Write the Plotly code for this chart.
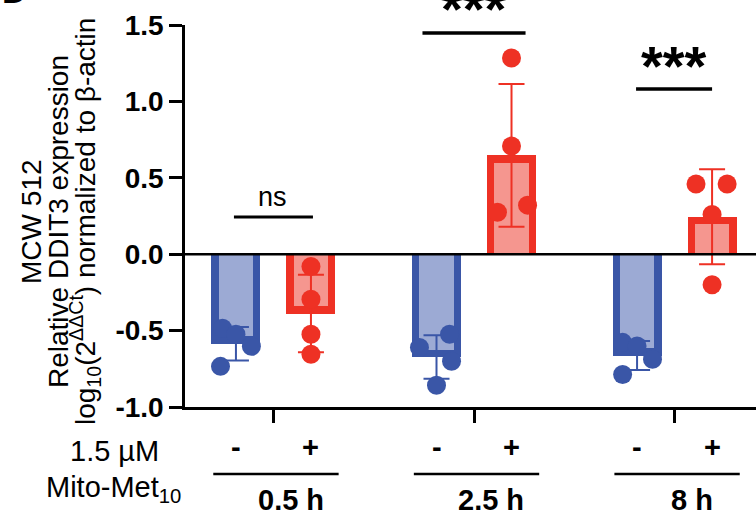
import numpy as np
import plotly.graph_objects as go

# ---------------- data ----------------
groups = ['0.5 h', '2.5 h', '8 h']
treatment_labels = ['-', '+']
ctrl_reps = [[-0.485, -0.524, -0.603, -0.734],
             [-0.524, -0.610, -0.700, -0.858],
             [-0.577, -0.600, -0.688, -0.787]]
mito_reps = [[-0.080, -0.295, -0.524, -0.655],
             [1.284, 0.708, 0.275, 0.321],
             [0.460, 0.460, 0.260, -0.200]]
sig_labels = ['ns', '***', '***']
sig_heights = [0.243, 1.448, 1.081]
y_ticks = [-1.0, -0.5, 0.0, 0.5, 1.0, 1.5]
y_ticktext = ['-1.0', '-0.5', '0.0', '0.5', '1.0', '1.5']

# ---------------- style ----------------
FONT = 'Liberation Sans, Arial, Helvetica, sans-serif'
BLUE, BLUE_L = '#3A56A7', '#9CAAD4'
RED, RED_L = '#EE3124', '#F5968F'
W, H = 756, 516
ML, MT, MB = 185, 25, 109
PW, PH = W - ML, H - MT - MB
XR = [-0.441, 2.406]
YR = [-1.0, 1.5]
OFF = 0.187          # bar offset from group centre
BW = 0.244           # bar width
BORDER_X = 0.036     # outline thickness (x units)
BORDER_Y = 0.049     # outline thickness (y units)
# per-point horizontal jitter (x units)
ctrl_jit = [[-0.067, 0.0, 0.077, -0.077], [0.065, -0.085, 0.075, 0.0], [-0.072, 0.0, 0.077, -0.072]]
mito_jit = [[0.0, 0.0, 0.0, 0.0], [0.0, 0.0, -0.07, 0.08], [-0.08, 0.075, 0.0, 0.0]]


def py2paper(py):
    return (H - MB - py) / PH


def px2paper(px):
    return (px - ML) / PW


def ann(**kw):
    d = dict(showarrow=False, xanchor='center', yanchor='middle')
    d.update(kw)
    return d


fig = go.Figure()

series = [(ctrl_reps, ctrl_jit, -OFF, BLUE, BLUE_L),
          (mito_reps, mito_jit, OFF, RED, RED_L)]

for reps, jit, off, dark, light in series:
    xs = [i + off for i in range(len(groups))]
    means = [float(np.mean(r)) for r in reps]
    sds = [float(np.std(r, ddof=1)) for r in reps]
    inner = [m - np.sign(m) * BORDER_Y for m in means]
    fig.add_trace(go.Bar(x=xs, y=means, width=BW, marker=dict(color=dark, line=dict(width=0)),
                         showlegend=False, hoverinfo='skip'))
    fig.add_trace(go.Bar(x=xs, y=inner, width=BW - 2 * BORDER_X,
                         marker=dict(color=light, line=dict(width=0)),
                         showlegend=False, hoverinfo='skip'))
    fig.add_trace(go.Scatter(x=xs, y=means, mode='markers', marker=dict(size=1, opacity=0),
                             error_y=dict(type='data', array=sds, visible=True, color=dark,
                                          thickness=2, width=13),
                             showlegend=False, hoverinfo='skip', cliponaxis=False))
    px_, py_ = [], []
    for i, r in enumerate(reps):
        for j, v in enumerate(r):
            px_.append(i + off + jit[i][j])
            py_.append(v)
    fig.add_trace(go.Scatter(x=px_, y=py_, mode='markers',
                             marker=dict(size=19, color=dark, line=dict(width=0)),
                             showlegend=False, cliponaxis=False))

shapes = []
# zero line above bars
shapes.append(dict(type='line', xref='paper', yref='y', x0=0, x1=1, y0=0, y1=0,
                   line=dict(color='black', width=2.5), layer='above'))
annotations = []

# significance bars
for i, (lab, h) in enumerate(zip(sig_labels, sig_heights)):
    if lab == 'ns':
        x0, x1 = i - OFF - 0.01, i + OFF + 0.01
        shapes.append(dict(type='line', xref='x', yref='y', x0=x0, x1=x1, y0=h, y1=h,
                           line=dict(color='black', width=3)))
        annotations.append(ann(x=i - 0.005, y=h, xref='x', yref='y', text=lab,
                               yshift=20, font=dict(family=FONT, size=27, color='black')))
    else:
        if i == 1:
            x0, x1 = i - OFF - 0.07, i + OFF + 0.07
        else:
            x0, x1 = i - OFF - 0.005, i + OFF
        shapes.append(dict(type='line', xref='x', yref='y', x0=x0, x1=x1, y0=h, y1=h,
                           line=dict(color='black', width=3.5)))
        annotations.append(ann(x=(x0 + x1) / 2, y=h, xref='x', yref='y', text=lab,
                               yshift=24, font=dict(family=FONT, size=56, color='black', weight='bold')))

# treatment +/- labels, group underline, group label
for i, g in enumerate(groups):
    for k, t in enumerate(treatment_labels):
        annotations.append(ann(x=i + (-OFF if k == 0 else OFF), y=py2paper(447), xref='x', yref='paper',
                               text=t, font=dict(family=FONT, size=29, color='black', weight='bold')))
    shapes.append(dict(type='line', xref='x', yref='paper', x0=i - 0.30, x1=i + 0.325,
                       y0=py2paper(474), y1=py2paper(474), line=dict(color='black', width=2.5)))
    annotations.append(ann(x=i + 0.085, y=py2paper(500), xref='x', yref='paper', text=g,
                           font=dict(family=FONT, size=29, color='black', weight='bold')))

# left side row labels
annotations.append(ann(x=px2paper(114), y=py2paper(451), xref='paper', yref='paper', text='1.5 µM',
                       font=dict(family=FONT, size=29, color='black')))
annotations.append(ann(x=px2paper(113), y=py2paper(489), xref='paper', yref='paper',
                       text='Mito-Met<sub>10</sub>',
                       font=dict(family=FONT, size=29, color='black')))

# y-axis title lines
ytitle = ['MCW 512', 'Relative DDIT3 expression',
          'log<sub>10</sub>(2<sup>ΔΔCt</sup>) normalized to β-actin']
for xpx, t in zip([31, 58, 85], ytitle):
    annotations.append(ann(x=px2paper(xpx), y=py2paper(222), xref='paper', yref='paper', text=t,
                           textangle=-90, font=dict(family=FONT, size=28, color='black')))

# panel letter
annotations.append(ann(x=px2paper(0), y=py2paper(8), xref='paper', yref='paper', text='D',
                       xanchor='left', yanchor='bottom', yshift=-4,
                       font=dict(family=FONT, size=34, color='black', weight='bold')))

fig.update_layout(
    width=W, height=H, margin=dict(l=ML, r=0, t=MT, b=MB, pad=0),
    paper_bgcolor='white', plot_bgcolor='white', barmode='overlay', bargap=0,
    shapes=shapes, annotations=annotations, showlegend=False,
    xaxis=dict(range=XR, showgrid=False, zeroline=False, showline=True, linecolor='black',
               linewidth=2.5, ticks='outside', tickvals=[0, 1, 2], ticklen=13, tickwidth=2.5,
               tickcolor='black', showticklabels=False, fixedrange=True),
    yaxis=dict(range=YR, showgrid=False, zeroline=False, showline=True, linecolor='black',
               linewidth=2.5, ticks='outside', tickvals=y_ticks, ticktext=y_ticktext,
               ticklen=13, tickwidth=2.5, tickcolor='black',
               tickfont=dict(family=FONT, size=28, color='black', weight='bold'), fixedrange=True),
)

fig.write_html('out.html', config={'displayModeBar': False})
